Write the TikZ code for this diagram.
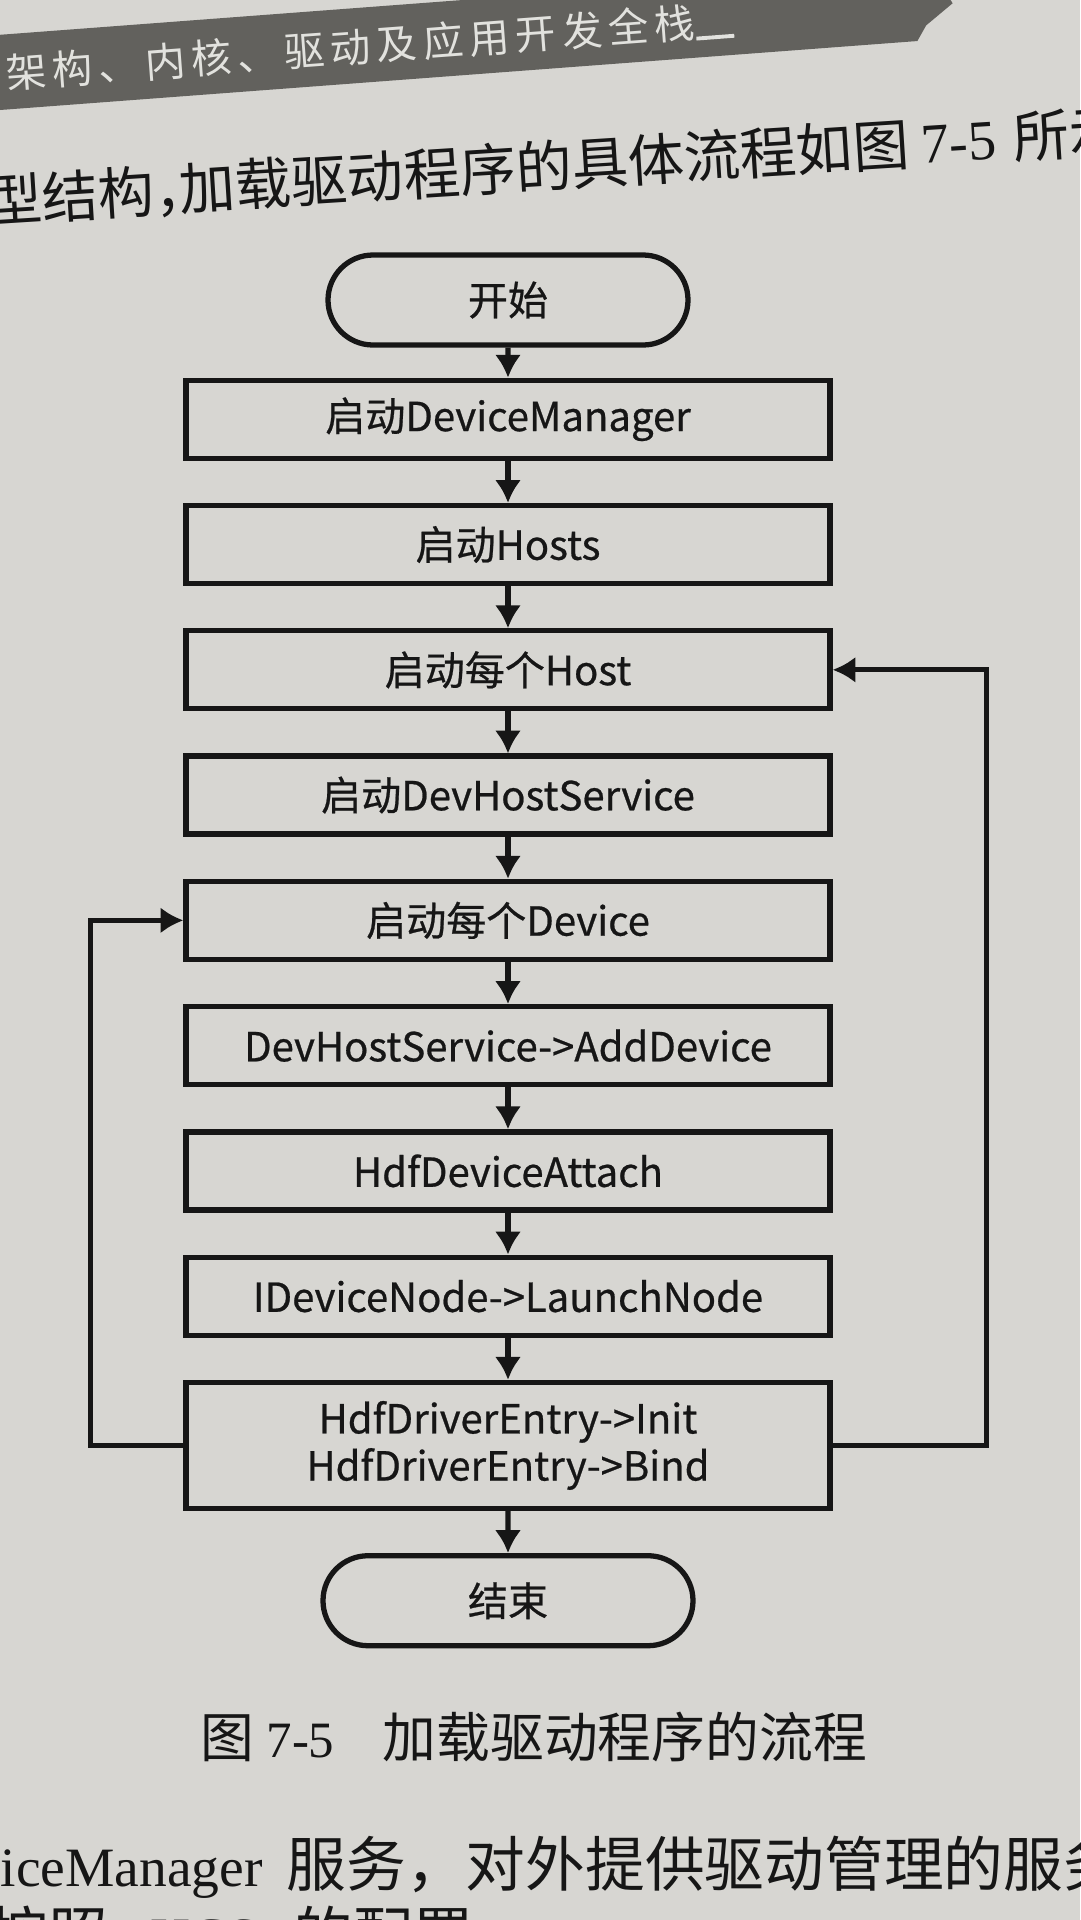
\documentclass[tikz,border=0pt]{standalone}
\usepackage{fontspec}
\setmainfont{Noto Sans CJK SC}
\newfontfamily\tms{Liberation Serif}
\newfontfamily\flowfont[FakeBold=0.6]{Noto Sans CJK SC}
\newfontfamily\headfont[LetterSpace=15]{Noto Sans CJK SC}
\usetikzlibrary{positioning,arrows.meta,shapes.misc}
\definecolor{paper}{RGB}{215,214,210}
\definecolor{ink}{RGB}{22,22,22}
\definecolor{band}{RGB}{98,97,93}
\definecolor{bandtext}{RGB}{226,226,222}
\tikzset{
    stepbox/.style={draw=ink,line width=1.5pt,minimum width=64.4mm,minimum height=7.8mm,
        inner sep=0pt,align=center,text=ink,font=\flowfont\fontsize{11.4}{13.4}\selectfont},
    termbox/.style={stepbox,rounded rectangle,minimum width=36mm,minimum height=9mm},
    flow/.style={line width=1.5pt,draw=ink,-{Latex[length=6.5pt,width=7.5pt]}},
    pagetext/.style={anchor=west,inner sep=0pt,text=ink},
}
\begin{document}
\begin{tikzpicture}[x=0.1mm,y=-0.1mm,node distance=4.2mm]
    \fill[paper] (0,0) rectangle (1080,1920);
    \useasboundingbox (0,0) rectangle (1080,1920);
    % running head of the page
    \begin{scope}[rotate around={4.3:(0,110)}]
        \fill[band] (-20,35) -- (975,35) -- (950,60) -- (958,75) -- (930,95) -- (920,110) -- (-20,110) -- cycle;
        \node[pagetext,transform shape,text=bandtext,font=\headfont\fontsize{11.5}{13}\selectfont] (head) at (8,74)
            {架构、内核、驱动及应用开发全栈\rule[-1pt]{3.8mm}{1.1pt}};
    \end{scope}
    \node[pagetext,rotate=3.6,font=\fontsize{16}{18}\selectfont] (intro) at (-15,202)
        {型结构，\kern-.55em 加载驱动程序的具体流程如图 {\tms 7-5}\hspace{.3em}所示};

    \node[termbox] (start) at (508,300) {开始};
    \node[stepbox,below=3mm of start] (dm) {启动DeviceManager};
    \node[stepbox,below=of dm] (hosts) {启动Hosts};
    \node[stepbox,below=of hosts] (host) {启动每个Host};
    \node[stepbox,below=of host] (dhs) {启动DevHostService};
    \node[stepbox,below=of dhs] (dev) {启动每个Device};
    \node[stepbox,below=of dev] (add) {DevHostService->AddDevice};
    \node[stepbox,below=of add] (attach) {HdfDeviceAttach};
    \node[stepbox,below=of attach] (launch) {IDeviceNode->LaunchNode};
    \node[stepbox,below=of launch,minimum height=12.6mm] (entry) {HdfDriverEntry->Init\\HdfDriverEntry->Bind};
    \node[termbox,below=of entry,minimum width=37mm] (stop) {结束};

    \draw[flow] (start) -- (dm);
    \draw[flow] (dm) -- (hosts);
    \draw[flow] (hosts) -- (host);
    \draw[flow] (host) -- (dhs);
    \draw[flow] (dhs) -- (dev);
    \draw[flow] (dev) -- (add);
    \draw[flow] (add) -- (attach);
    \draw[flow] (attach) -- (launch);
    \draw[flow] (launch) -- (entry);
    \draw[flow] (entry) -- (stop);
    % back to the next device / next host
    \draw[flow] (entry.west) -- ++(-9.3mm,0) |- (dev.west);
    \draw[flow] (entry.east) -- ++(15.4mm,0) |- (host.east);

    \node[pagetext,font=\fontsize{15.3}{18}\selectfont] (caption) at (200,1737)
        {图 {\tms\fontsize{14.5}{18}\selectfont 7-5}\hspace{.9em}加载驱动程序的流程};
    \node[pagetext,font=\fontsize{17}{20}\selectfont] (body) at (0,1867)
        {{\tms\fontsize{15.8}{20}\selectfont iceManager}\hspace{.4em}服务，对外提供驱动管理的服务};
    \node[pagetext,font=\fontsize{17}{20}\selectfont] (bodynext) at (-12,1934)
        {按照\hspace{.7em}{\tms\fontsize{15.8}{20}\selectfont HCS}\hspace{.6em}的配置};
\end{tikzpicture}
\end{document}
